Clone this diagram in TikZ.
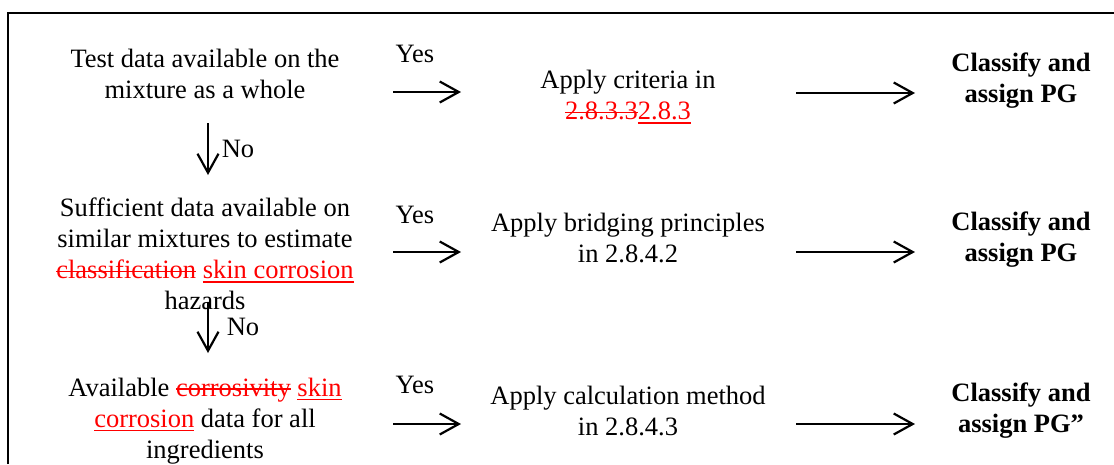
\documentclass[tikz,border=0pt]{standalone}
\usepackage{fontspec}
\setmainfont{Liberation Serif}
\usetikzlibrary{arrows.meta}
\newcommand{\mydel}[1]{\textcolor{red}{\setbox0\hbox{#1}\rlap{\rule[6.5pt]{\wd0}{1.5pt}}\box0}}
\newcommand{\myins}[1]{\textcolor{red}{\setbox0\hbox{#1}\rlap{\rule[-4pt]{\wd0}{1.5pt}}\box0}}
\tikzset{
  txt/.style={font=\fontsize{26.5}{31}\selectfont, align=center, inner sep=0pt},
  btxt/.style={txt, font=\fontsize{26.5}{31}\selectfont\bfseries},
  lbl/.style={font=\fontsize{26.5}{31}\selectfont, inner sep=0pt, anchor=base},
  arr/.style={line width=2.2pt, -{Straight Barb[length=19pt,width=21pt,line width=2.2pt]}},
  frame/.style={line width=2pt}
}
\begin{document}
\begin{tikzpicture}[x=1pt,y=-1pt]
\useasboundingbox (0,0) rectangle (1114,464);
% frame
\coordinate (fb) at (8,464);
\coordinate (fc) at (8,13);
\coordinate (fr) at (1114,13);
\draw[frame] (fb) -- (fc) -- (fr);

% left column
\node[txt] (q1) at (205,74) {Test data available on the\\mixture as a whole};
\node[txt] (q2) at (205,254) {Sufficient data available on\\similar mixtures to estimate\\\mydel{classification} \myins{skin corrosion}\\hazards};
\node[txt] (q3) at (205,421) {Available \mydel{corrosivity} \myins{skin}\\\myins{corrosion} data for all\\ingredients};

% middle column
\node[txt] (m1) at (628,97) {Apply criteria in\\\mydel{2.8.3.3}\myins{2.8.3}};
\node[txt] (m2) at (628,238) {Apply bridging principles\\in 2.8.4.2};
\node[txt] (m3) at (628,411) {Apply calculation method\\in 2.8.4.3};

% right column
\node[btxt] (r1) at (1021,81) {Classify and\\assign PG};
\node[btxt] (r2) at (1021,240) {Classify and\\assign PG};
\node[btxt] (r3) at (1021,411) {Classify and\\assign PG''};

% Yes labels
\node[lbl] (y1) at (415,62) {Yes};
\node[lbl] (y2) at (415,223) {Yes};
\node[lbl] (y3) at (415,393) {Yes};

% No labels
\node[lbl] (n1) at (238,157) {No};
\node[lbl] (n2) at (243,335) {No};

% arrow coordinates
\coordinate (a1s) at (393,92);  \coordinate (a1e) at (461,92);
\coordinate (b1s) at (796,93);  \coordinate (b1e) at (915,93);
\coordinate (a2s) at (393,252); \coordinate (a2e) at (461,252);
\coordinate (b2s) at (796,252); \coordinate (b2e) at (915,252);
\coordinate (a3s) at (393,424); \coordinate (a3e) at (461,424);
\coordinate (b3s) at (796,424); \coordinate (b3e) at (915,424);
\coordinate (d1s) at (208,123); \coordinate (d1e) at (208,175);
\coordinate (d2s) at (208,302); \coordinate (d2e) at (208,353);

\draw[arr] (a1s) -- (a1e);
\draw[arr] (b1s) -- (b1e);
\draw[arr] (a2s) -- (a2e);
\draw[arr] (b2s) -- (b2e);
\draw[arr] (a3s) -- (a3e);
\draw[arr] (b3s) -- (b3e);
\draw[arr] (d1s) -- (d1e);
\draw[arr] (d2s) -- (d2e);
\end{tikzpicture}
\end{document}
